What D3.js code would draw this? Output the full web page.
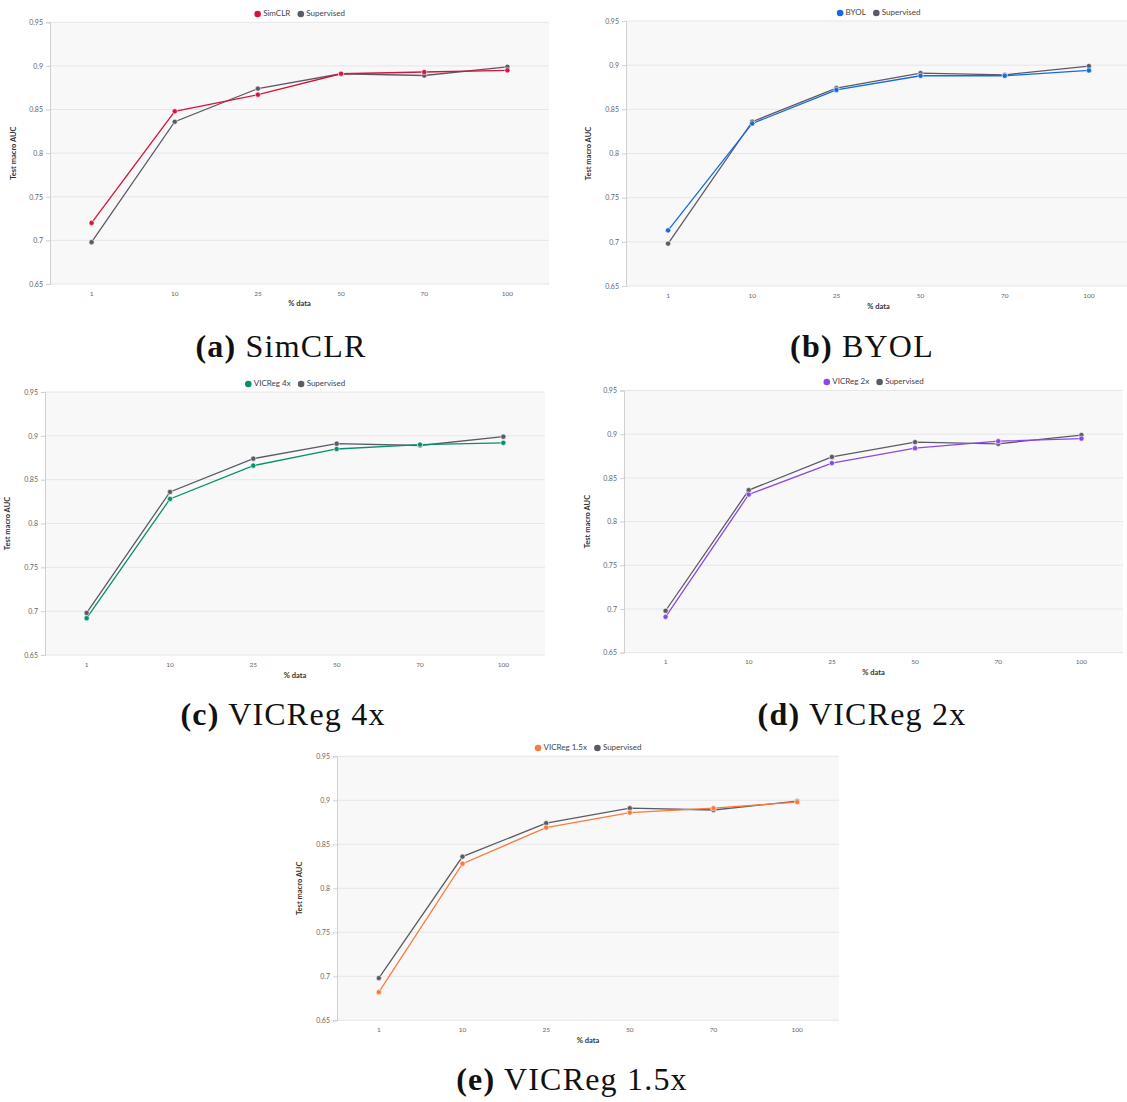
<!DOCTYPE html>
<html>
<head>
<meta charset="utf-8">
<script src="https://cdn.jsdelivr.net/npm/d3@7"></script>
<style>
  html, body { margin: 0; padding: 0; background: #ffffff; }
  svg { display: block; }
</style>
</head>
<body>
<svg id="fig" width="1127" height="1102"></svg>
<script>
// Percentage of labelled data used for fine-tuning
const dataPct = ["1", "10", "25", "50", "70", "100"];
const yTicks = [0.65, 0.7, 0.75, 0.8, 0.85, 0.9, 0.95];

// Test macro AUC for the fully supervised baseline
const supervised = [0.698, 0.836, 0.874, 0.891, 0.889, 0.899];

// Test macro AUC for each self-supervised pre-training method
const simclr    = [0.720, 0.848, 0.867, 0.891, 0.893, 0.895];
const byol      = [0.713, 0.834, 0.872, 0.888, 0.888, 0.894];
const vicreg4x  = [0.692, 0.828, 0.866, 0.885, 0.890, 0.892];
const vicreg2x  = [0.691, 0.831, 0.867, 0.884, 0.892, 0.895];
const vicreg15x = [0.682, 0.828, 0.869, 0.886, 0.891, 0.898];

const methodNames = ["SimCLR", "BYOL", "VICReg 4x", "VICReg 2x", "VICReg 1.5x"];
const methodValues = [simclr, byol, vicreg4x, vicreg2x, vicreg15x];
const captionTags = ["(a)", "(b)", "(c)", "(d)", "(e)"];

const methodColors = ["#d7143c", "#1668e3", "#07906d", "#8c46ec", "#fb7a3f"];
const supervisedColor = "#5b5b66";

// Layout of each panel on the page
const panels = [
  { left: 50,  right: 549,  top: 22.3,  bottom: 284,    legendY: 14,  xTitleY: 304,  yTitleX: 14,  capX: 281, capY: 350 },
  { left: 626, right: 1131, top: 21,    bottom: 286,    legendY: 13,  xTitleY: 307,  yTitleX: 589, capX: 862, capY: 350 },
  { left: 45,  right: 545,  top: 392,   bottom: 655,    legendY: 384, xTitleY: 676,  yTitleX: 8,   capX: 283, capY: 718 },
  { left: 624, right: 1123, top: 390.5, bottom: 652.7,  legendY: 382, xTitleY: 673,  yTitleX: 588, capX: 862, capY: 718 },
  { left: 337, right: 839,  top: 756.3, bottom: 1020.3, legendY: 748, xTitleY: 1041, yTitleX: 300, capX: 572, capY: 1083 }
];

const svg = d3.select("#fig");
const uiFont = "Lato, 'Open Sans', sans-serif";
const capFont = "'Liberation Serif', 'DejaVu Serif', serif";

panels.forEach((p, i) => {
  const g = svg.append("g");
  const x = d3.scaleBand().domain(dataPct).range([p.left, p.right]);
  const y = d3.scaleLinear().domain([0.65, 0.95]).range([p.bottom, p.top]);

  // plot background
  g.append("rect")
    .attr("x", p.left).attr("y", p.top)
    .attr("width", p.right - p.left).attr("height", p.bottom - p.top)
    .attr("fill", "#f8f8f8");

  // horizontal grid
  g.selectAll(".grid").data(yTicks).join("line")
    .attr("x1", p.left).attr("x2", p.right)
    .attr("y1", d => y(d)).attr("y2", d => y(d))
    .attr("stroke", "#e6e6ea").attr("stroke-width", 1);

  // y axis
  const yAxis = d3.axisLeft(y).tickValues(yTicks).tickSize(4).tickPadding(3)
    .tickFormat(d => d3.format("")(+d.toFixed(2)));
  const ya = g.append("g").attr("transform", `translate(${p.left},0)`).call(yAxis);
  ya.select(".domain").attr("stroke", "#cfcfd6");
  ya.selectAll(".tick line").attr("stroke", "#cfcfd6");
  ya.selectAll("text").attr("font-family", uiFont).attr("font-size", 7).attr("fill", "#666");

  // x axis labels
  const xAxis = d3.axisBottom(x).tickSize(0).tickPadding(7);
  const xa = g.append("g").attr("transform", `translate(0,${p.bottom})`).call(xAxis);
  xa.select(".domain").remove();
  xa.selectAll("text").attr("font-family", uiFont).attr("font-size", 6.5).attr("fill", "#666");

  // axis titles
  g.append("text")
    .attr("x", (p.left + p.right) / 2).attr("y", p.xTitleY)
    .attr("text-anchor", "middle").attr("dominant-baseline", "middle")
    .attr("font-family", uiFont).attr("font-weight", 700).attr("font-size", 7.5).attr("fill", "#333")
    .text("% data");
  g.append("text")
    .attr("transform", `translate(${p.yTitleX},${(p.top + p.bottom) / 2}) rotate(-90)`)
    .attr("text-anchor", "middle").attr("dominant-baseline", "middle")
    .attr("font-family", uiFont).attr("font-weight", 700).attr("font-size", 7.5).attr("fill", "#333")
    .text("Test macro AUC");

  const cx = d => x(d) + x.bandwidth() / 2;
  const line = d3.line().x((d, k) => cx(dataPct[k])).y(d => y(d));

  const series = [
    { values: supervised, color: supervisedColor },
    { values: methodValues[i], color: methodColors[i] }
  ];
  series.forEach(s => {
    g.append("path").datum(s.values)
      .attr("d", line).attr("fill", "none")
      .attr("stroke", s.color).attr("stroke-width", 1.3);
  });
  series.forEach(s => {
    g.selectAll(null).data(s.values).join("circle")
      .attr("cx", (d, k) => cx(dataPct[k])).attr("cy", d => y(d))
      .attr("r", 2.6).attr("fill", s.color)
      .attr("stroke", "#ffffff").attr("stroke-width", 0.6);
  });

  // legend
  const legItems = [
    { name: methodNames[i], color: methodColors[i] },
    { name: "Supervised", color: supervisedColor }
  ];
  const leg = g.append("g");
  let off = 0;
  legItems.forEach(it => {
    const item = leg.append("g").attr("transform", `translate(${off},0)`);
    item.append("circle").attr("cx", 3.5).attr("cy", 0).attr("r", 3.3).attr("fill", it.color);
    const t = item.append("text").attr("x", 9).attr("y", 0)
      .attr("dominant-baseline", "middle")
      .attr("font-family", uiFont).attr("font-size", 8).attr("fill", "#444")
      .text(it.name);
    off += 9 + t.node().getComputedTextLength() + 7;
  });
  const legW = off - 7;
  leg.attr("transform", `translate(${(p.left + p.right) / 2 - legW / 2},${p.legendY})`);

  // caption
  const cap = g.append("text")
    .attr("x", p.capX).attr("y", p.capY)
    .attr("text-anchor", "middle").attr("dominant-baseline", "middle")
    .attr("font-family", capFont).attr("font-size", 32).attr("letter-spacing", 1.2)
    .attr("fill", "#111");
  cap.append("tspan").attr("font-weight", 700).text(captionTags[i]);
  cap.append("tspan").text(" " + methodNames[i]);
});
</script>
</body>
</html>
